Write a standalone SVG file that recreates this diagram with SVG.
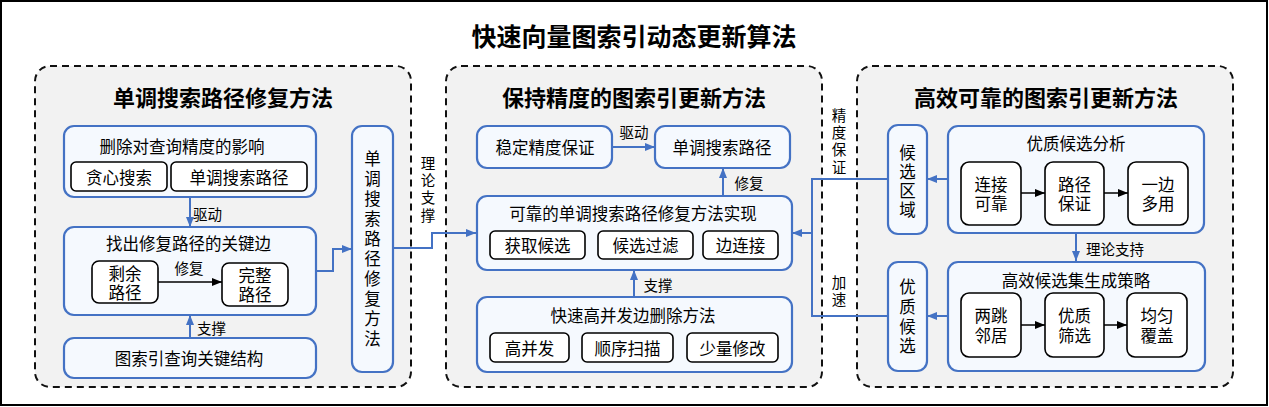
<svg xmlns="http://www.w3.org/2000/svg" width="1269" height="407" viewBox="0 0 1269 407">
<defs>
<style>
.t{font-family:"Noto Sans CJK SC","Liberation Sans",sans-serif;font-size:16.5px;fill:#000;text-anchor:middle;dominant-baseline:central}
.lbl{font-size:14.5px}
.h{font-size:22px;font-weight:bold}
.title{font-size:25px;font-weight:bold}
.v{writing-mode:vertical-rl}
.panel{fill:#f2f2f2;stroke:#111;stroke-width:2;stroke-dasharray:7 5}
.bb{fill:#f5f9fe;stroke:#4472c4;stroke-width:2.2}
.kb{fill:#fff;stroke:#000;stroke-width:1.6}
.conn{fill:none;stroke:#4472c4;stroke-width:2}
.bk{fill:none;stroke:#000;stroke-width:1.5}
</style>
<marker id="ab" markerUnits="userSpaceOnUse" markerWidth="10" markerHeight="8" refX="10" refY="4" orient="auto"><path d="M0,0L10,4L0,8z" fill="#4472c4"/></marker>
<marker id="ak" markerUnits="userSpaceOnUse" markerWidth="10" markerHeight="8" refX="10" refY="4" orient="auto"><path d="M0,0L10,4L0,8z" fill="#000"/></marker>
</defs>
<rect x="0" y="0" width="1269" height="407" fill="#fff"/>
<rect x="1" y="1" width="1266" height="404" fill="none" stroke="#000" stroke-width="2"/>
<text class="t title" x="634" y="34.5">快速向量图索引动态更新算法</text>

<g id="panel-left">
<rect class="panel" x="35" y="66" width="376" height="321" rx="15"/>
<text class="t h" x="223" y="96">单调搜索路径修复方法</text>
</g>
<g id="panel-mid">
<rect class="panel" x="446" y="66" width="376" height="321" rx="15"/>
<text class="t h" x="634" y="96">保持精度的图索引更新方法</text>
</g>
<g id="panel-right">
<rect class="panel" x="857" y="66" width="376" height="321" rx="15"/>
<text class="t h" x="1046" y="96">高效可靠的图索引更新方法</text>
</g>

<g id="n-delete-impact">
<rect class="bb" x="64" y="126" width="252" height="71" rx="10"/>
<text class="t" x="182" y="146">删除对查询精度的影响</text>
<rect class="kb" x="71" y="162" width="96" height="29" rx="5"/>
<text class="t" x="119" y="176.5">贪心搜索</text>
<rect class="kb" x="171" y="162" width="136" height="29" rx="5"/>
<text class="t" x="239" y="176.5">单调搜索路径</text>
</g>
<g id="n-key-edges">
<rect class="bb" x="64" y="227" width="252" height="88" rx="10"/>
<text class="t" x="188.5" y="243">找出修复路径的关键边</text>
<rect class="kb" x="92" y="261" width="66" height="42" rx="7"/>
<text class="t" x="125" y="272.5">剩余<tspan x="125" dy="19.5">路径</tspan></text>
<rect class="kb" x="222" y="263" width="66" height="43" rx="7"/>
<text class="t" x="255" y="275">完整<tspan x="255" dy="19">路径</tspan></text>
</g>
<g id="n-key-struct">
<rect class="bb" x="64" y="338" width="252" height="40" rx="10"/>
<text class="t" x="189" y="358">图索引查询关键结构</text>
</g>
<g id="n-method-v">
<rect class="bb" x="352" y="126" width="41" height="246" rx="10"/>
<text class="t v" x="372.5" y="250" letter-spacing="3.5">单调搜索路径修复方法</text>
</g>

<g id="n-stable">
<rect class="bb" x="477" y="126" width="135" height="42" rx="10"/>
<text class="t" x="545" y="147">稳定精度保证</text>
</g>
<g id="n-mono-path">
<rect class="bb" x="655" y="126" width="135" height="42" rx="10"/>
<text class="t" x="722" y="147">单调搜索路径</text>
</g>
<g id="n-repair-impl">
<rect class="bb" x="477" y="196" width="315" height="74" rx="10"/>
<text class="t" x="633" y="213">可靠的单调搜索路径修复方法实现</text>
<rect class="kb" x="490" y="231" width="95" height="28" rx="5"/>
<text class="t" x="537.5" y="245">获取候选</text>
<rect class="kb" x="598" y="231" width="95" height="28" rx="5"/>
<text class="t" x="645.5" y="245">候选过滤</text>
<rect class="kb" x="703" y="231" width="75" height="28" rx="5"/>
<text class="t" x="740.5" y="245">边连接</text>
</g>
<g id="n-fast-delete">
<rect class="bb" x="477" y="297" width="315" height="75" rx="10"/>
<text class="t" x="633" y="315">快速高并发边删除方法</text>
<rect class="kb" x="490" y="333" width="79" height="29" rx="5"/>
<text class="t" x="529.5" y="347.5">高并发</text>
<rect class="kb" x="582" y="333" width="91" height="29" rx="5"/>
<text class="t" x="627.5" y="347.5">顺序扫描</text>
<rect class="kb" x="687" y="333" width="91" height="29" rx="5"/>
<text class="t" x="732.5" y="347.5">少量修改</text>
</g>

<g id="n-cand-region">
<rect class="bb" x="888" y="125" width="39" height="109" rx="10"/>
<text class="t v" x="907.5" y="182" letter-spacing="2.5">候选区域</text>
</g>
<g id="n-quality-analysis">
<rect class="bb" x="948" y="126" width="256" height="107" rx="10"/>
<text class="t" x="1076" y="143">优质候选分析</text>
<rect class="kb" x="961" y="162" width="60" height="63" rx="8"/>
<text class="t" x="991" y="184">连接<tspan x="991" dy="19">可靠</tspan></text>
<rect class="kb" x="1045" y="162" width="59" height="63" rx="8"/>
<text class="t" x="1074.5" y="184">路径<tspan x="1074.5" dy="19">保证</tspan></text>
<rect class="kb" x="1128" y="162" width="60" height="63" rx="8"/>
<text class="t" x="1158" y="184">一边<tspan x="1158" dy="19">多用</tspan></text>
</g>
<g id="n-quality-cand">
<rect class="bb" x="888" y="262" width="39" height="109" rx="10"/>
<text class="t v" x="907.5" y="318" letter-spacing="3.2">优质候选</text>
</g>
<g id="n-cand-strategy">
<rect class="bb" x="948" y="262" width="257" height="109" rx="10"/>
<text class="t" x="1076" y="280">高效候选集生成策略</text>
<rect class="kb" x="961" y="293" width="60" height="64" rx="8"/>
<text class="t" x="991" y="315">两跳<tspan x="991" dy="20">邻居</tspan></text>
<rect class="kb" x="1045" y="293" width="59" height="64" rx="8"/>
<text class="t" x="1074.5" y="315">优质<tspan x="1074.5" dy="20">筛选</tspan></text>
<rect class="kb" x="1127" y="293" width="60" height="64" rx="8"/>
<text class="t" x="1157" y="315">均匀<tspan x="1157" dy="20">覆盖</tspan></text>
</g>

<g id="connectors">
<path class="conn" d="M190,197V227" marker-end="url(#ab)"/>
<path class="conn" d="M190,338V315" marker-end="url(#ab)"/>
<path class="bk" d="M158,282H222" marker-end="url(#ak)"/>
<path class="conn" d="M316,271H333V249H352" marker-end="url(#ab)"/>
<path class="conn" d="M393,248H432V233H476" marker-end="url(#ab)"/>
<path class="conn" d="M612,147H655" marker-end="url(#ab)"/>
<path class="conn" d="M723,196V168" marker-end="url(#ab)"/>
<path class="conn" d="M634,297V270" marker-end="url(#ab)"/>
<path class="conn" d="M888,179H812V233H792" marker-end="url(#ab)"/>
<path class="conn" d="M888,316H812V233"/>
<path class="conn" d="M948,179H927" marker-end="url(#ab)"/>
<path class="conn" d="M948,316H927" marker-end="url(#ab)"/>
<path class="conn" d="M1076,233V261" marker-end="url(#ab)"/>
<path class="bk" d="M1021,193H1045" marker-end="url(#ak)"/>
<path class="bk" d="M1104,193H1128" marker-end="url(#ak)"/>
<path class="bk" d="M1021,325H1045" marker-end="url(#ak)"/>
<path class="bk" d="M1104,325H1127" marker-end="url(#ak)"/>
<text class="t lbl" x="207.5" y="213">驱动</text>
<text class="t lbl" x="211.5" y="327">支撑</text>
<text class="t lbl" x="189" y="267">修复</text>
<text class="t lbl v" x="428" y="190.5" letter-spacing="2.8">理论支撑</text>
<text class="t lbl" x="634" y="131">驱动</text>
<text class="t lbl" x="749" y="182">修复</text>
<text class="t lbl" x="658" y="284">支撑</text>
<text class="t lbl v" x="839" y="142.5" letter-spacing="2.8">精度保证</text>
<text class="t lbl v" x="839" y="292" letter-spacing="2.5">加速</text>
<text class="t lbl" x="1115" y="248">理论支持</text>
</g>
</svg>
